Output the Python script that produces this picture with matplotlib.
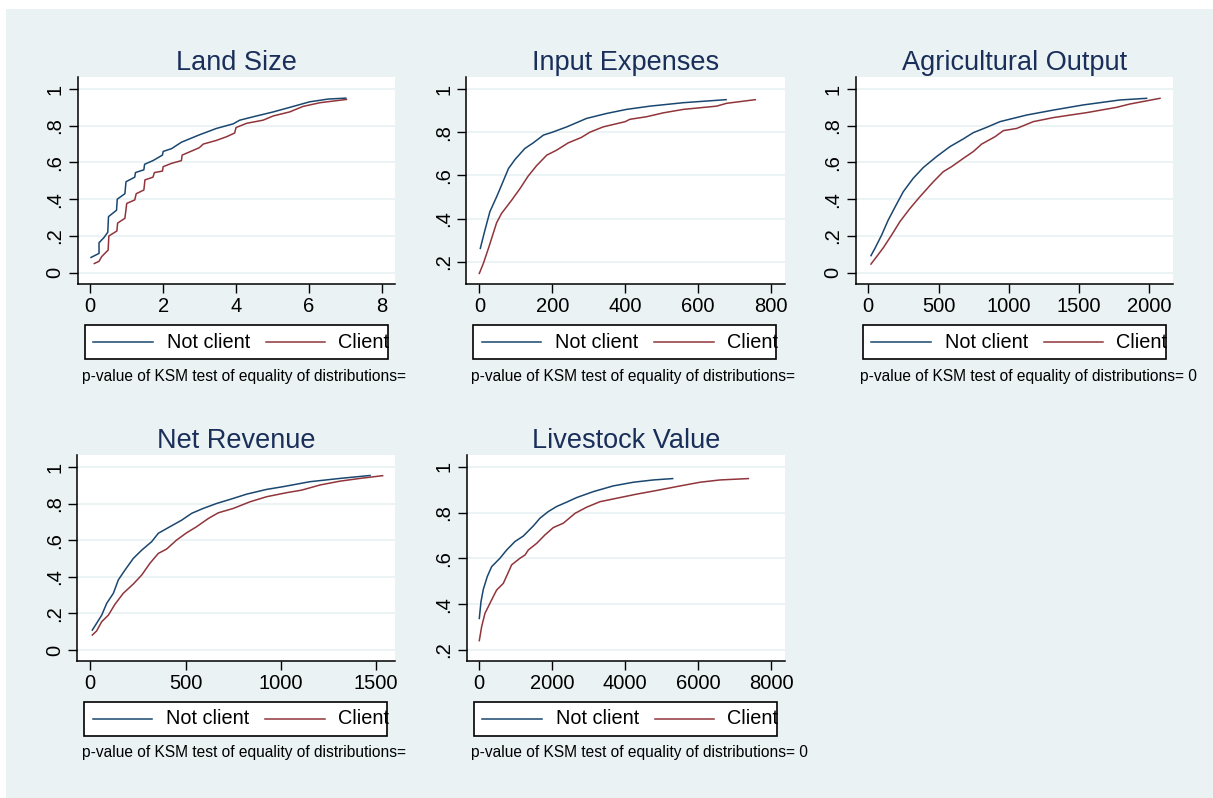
import numpy as np
import matplotlib.pyplot as plt
from matplotlib.patches import Rectangle
from matplotlib.lines import Line2D

plt.rcParams['font.family'] = ['Liberation Sans', 'DejaVu Sans']

# ---- data ----
titles = ["Land Size", "Input Expenses", "Agricultural Output", "Net Revenue", "Livestock Value"]
series_names = ["Not client", "Client"]
pvals = ["", "", " 0", "", " 0"]

land_nc_x = [0.02, 0.24, 0.24, 0.37, 0.48, 0.50, 0.72, 0.74, 0.95, 0.98, 1.22, 1.24, 1.47, 1.49,
             1.72, 1.98, 2.0, 2.23, 2.5, 2.99, 3.46, 3.92, 4.1, 4.5, 5.02, 5.57, 6.02, 6.53, 7.01]
land_nc_y = [.083, .105, .163, .19, .22, .305, .34, .40, .43, .495, .52, .545, .56, .59,
             .61, .64, .66, .675, .71, .75, .785, .81, .83, .85, .875, .905, .93, .945, .95]
land_c_x = [.11, .24, .31, .49, .51, .73, .75, .95, 1.0, 1.22, 1.26, 1.47, 1.5, 1.72, 1.76, 1.98, 2.0,
            2.23, 2.5, 2.52, 2.99, 3.1, 3.46, 3.74, 3.96, 4.0, 4.29, 4.74, 5.02, 5.47, 5.84, 6.3, 7.03]
land_c_y = [.05, .062, .087, .123, .2, .227, .27, .296, .377, .396, .43, .45, .505, .52, .545, .553, .577,
            .595, .61, .64, .68, .70, .72, .74, .76, .79, .813, .83, .853, .875, .905, .925, .943]

input_nc_x = [2.7, 15.5, 29, 47.5, 61, 80, 98, 125, 148, 176, 200, 240, 294, 349, 404, 468, 560, 677]
input_nc_y = [.262, .347, .432, .501, .555, .632, .674, .725, .751, .787, .80, .825, .864, .887, .906, .921, .937, .951]
input_c_x = [0, 11, 25, 47.5, 61, 89, 112, 134, 157, 185, 212, 244, 280, 303, 340, 400, 413,
             459, 505, 560, 651, 678, 757]
input_c_y = [.146, .192, .262, .381, .424, .486, .54, .597, .645, .694, .717, .751, .776, .80, .825, .849, .86,
             .872, .89, .906, .921, .934, .951]

agri_nc_x = [19, 47, 95, 142, 202, 249, 320, 391, 486, 581, 676, 747, 842, 937, 1032, 1127, 1317, 1530, 1791, 1981]
agri_nc_y = [.093, .132, .205, .287, .374, .441, .514, .572, .632, .686, .728, .762, .791, .822, .84, .858,
             .885, .913, .94, .949]
agri_c_x = [19, 59, 107, 166, 225, 297, 368, 463, 534, 593, 676, 747, 807, 902, 961, 1056, 1174, 1317,
            1412, 1554, 1768, 1862, 2076]
agri_c_y = [.047, .087, .136, .205, .278, .35, .414, .495, .55, .577, .622, .659, .70, .74, .773, .785, .822,
            .844, .855, .871, .90, .918, .949]

rev_nc_x = [10.5, 33, 60, 86, 121, 147, 182, 226, 270, 322, 357, 418, 480, 532, 593, 663, 733, 821, 926,
            1013, 1153, 1311, 1469]
rev_nc_y = [.109, .146, .191, .255, .31, .383, .437, .501, .546, .592, .638, .674, .71, .747, .774, .801,
            .823, .852, .878, .893, .92, .938, .954]
rev_c_x = [10.5, 33, 60, 95, 130, 173, 226, 270, 313, 357, 401, 453, 506, 558, 620, 672, 751, 838, 926,
           1031, 1110, 1206, 1311, 1416, 1535]
rev_c_y = [.082, .104, .155, .191, .251, .31, .361, .41, .474, .528, .552, .601, .641, .674, .719, .75,
           .774, .81, .838, .86, .874, .902, .923, .938, .953]

live_nc_x = [0, 46, 110, 219, 338, 567, 750, 978, 1207, 1481, 1664, 1893, 2121, 2395, 2670, 3127, 3675,
             4224, 4773, 5303]
live_nc_y = [.338, .411, .465, .521, .564, .601, .637, .674, .698, .742, .776, .805, .827, .846, .866,
             .892, .917, .933, .943, .949]
live_c_x = [0, 64, 155, 338, 475, 658, 887, 1115, 1253, 1344, 1573, 1801, 2030, 2304, 2624, 2944, 3310,
            3767, 4315, 4864, 5413, 6053, 6601, 7378]
live_c_y = [.241, .302, .36, .419, .462, .491, .572, .601, .615, .637, .666, .703, .735, .754, .797, .824,
            .848, .863, .881, .897, .914, .933, .943, .949]

xticks = [[0, 2, 4, 6, 8], [0, 200, 400, 600, 800], [0, 500, 1000, 1500, 2000],
          [0, 500, 1000, 1500], [0, 2000, 4000, 6000, 8000]]
yticks_full = [0, .2, .4, .6, .8, 1]
yticks_short = [.2, .4, .6, .8, 1]

# ---- layout (pixels) ----
W, H = 1213, 798
NAVY = '#1A476F'
MAROON = '#90353B'
BG = '#EAF2F3'

fig = plt.figure(figsize=(W / 100, H / 100), dpi=100)
fig.patch.set_facecolor('white')
fig.patches.append(Rectangle((6 / W, 0), 1 - 6 / W, 1 - 9 / H, transform=fig.transFigure,
                             facecolor=BG, edgecolor='none', zorder=-10))


def fx(x):
    return x / W


def fy(y):
    return 1 - y / H


# left, top, right, bottom in pixels
boxes = [(77.7, 77, 395, 284), (466.3, 77, 785, 284), (855.7, 77, 1173.3, 284),
         (77.3, 455, 395, 661), (466.7, 455, 785, 661)]
xlims = [(-0.345, 8.36), (-35.7, 838.5), (-89.7, 2171), (-68.3, 1600), (-345.6, 8384)]
ylims = [(-0.0615, 1.065), (0.097, 1.056), (-0.0615, 1.065), (-0.06, 1.066), (0.152, 1.052)]
data = [(land_nc_x, land_nc_y, land_c_x, land_c_y),
        (input_nc_x, input_nc_y, input_c_x, input_c_y),
        (agri_nc_x, agri_nc_y, agri_c_x, agri_c_y),
        (rev_nc_x, rev_nc_y, rev_c_x, rev_c_y),
        (live_nc_x, live_nc_y, live_c_x, live_c_y)]
yts = [yticks_full, yticks_short, yticks_full, yticks_full, yticks_short]


def ylab(v):
    if v == 0:
        return '0'
    if v == 1:
        return '1'
    return ('%.1f' % v).lstrip('0')


for i in range(5):
    l, t, r, b = boxes[i]
    ax = fig.add_axes([fx(l), fy(b), fx(r - l), (b - t) / H])
    ax.set_facecolor('white')
    ncx, ncy, cx, cy = data[i]
    ax.plot(ncx, ncy, color=NAVY, lw=1.1)
    ax.plot(cx, cy, color=MAROON, lw=1.1)
    ax.set_xlim(*xlims[i])
    ax.set_ylim(*ylims[i])
    ax.set_xticks(xticks[i])
    ax.set_yticks(yts[i])
    ax.set_yticklabels([ylab(v) for v in yts[i]])
    ax.tick_params(axis='both', labelsize=14.5, length=6.5, width=1, color='black')
    ax.tick_params(axis='y', labelrotation=90, pad=3)
    ax.tick_params(axis='x', pad=3)
    for lab in ax.get_yticklabels():
        lab.set_va('center')
    ax.yaxis.grid(True, color=BG, lw=1.3)
    ax.set_axisbelow(True)
    ax.spines['top'].set_visible(False)
    ax.spines['right'].set_visible(False)
    ax.spines['left'].set_linewidth(1.1)
    ax.spines['bottom'].set_linewidth(1.1)
    ax.set_title(titles[i], fontsize=19.5, color='#1A2E5A', pad=5)

    # legend box
    bl, bt, bw, bh = l + 7, b + 41, 303, 34
    fig.patches.append(Rectangle((fx(bl), fy(bt + bh)), bw / W, bh / H, transform=fig.transFigure,
                                 facecolor='white', edgecolor='black', lw=1.2))
    cyl = bt + bh / 2
    fig.lines.append(Line2D([fx(bl + 8.6), fx(bl + 68)], [fy(cyl), fy(cyl)], transform=fig.transFigure,
                            color=NAVY, lw=1.1))
    fig.lines.append(Line2D([fx(bl + 181), fx(bl + 240.3)], [fy(cyl), fy(cyl)], transform=fig.transFigure,
                            color=MAROON, lw=1.1))
    fig.text(fx(bl + 82), fy(cyl), series_names[0], fontsize=14.3, va='center', ha='left')
    fig.text(fx(bl + 253.6), fy(cyl), series_names[1], fontsize=14.3, va='center', ha='left')

    fig.text(fx(l + 4.3), fy(b + 92), 'p-value of KSM test of equality of distributions=' + pvals[i],
             fontsize=11.2, va='center', ha='left')

fig.savefig('out.png', dpi=100)
